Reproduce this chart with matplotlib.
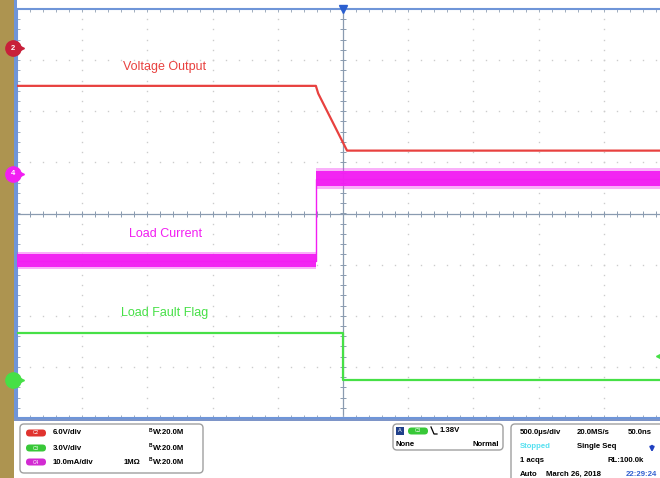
import numpy as np
import matplotlib
matplotlib.use("Agg")
import matplotlib.pyplot as plt
from matplotlib.patches import FancyBboxPatch, Rectangle

plt.rcParams['font.family'] = ['Liberation Sans', 'DejaVu Sans']

# channel settings (scale per division, marker position in divisions)
red_scale = 6.0      # V/div
red_offset = 3.23
cur_scale = 10.0     # mA/div
cur_offset = 0.78
grn_scale = 3.0      # V/div
grn_offset = -3.25
trig_level = 1.38    # V on C3

# traces, time in microseconds (500 us/div, 0 = trigger)
t_volt = [-2500, -208, -190, 31, 2500]
v_volt = [-4.4, -4.4, -5.3, -12.0, -12.0]

t_cur = [-2500, -208, -208, 2500]
i_cur = [-17.0, -17.0, -1.0, -1.0]
i_noise = [1.5, 1.5, 1.8, 1.8]   # half-width of the noise band, mA

t_flag = [-2500, 0, 0, 2500]
v_flag = [2.75, 2.75, 0.0, 0.0]

RED = '#e8413f'
MAG = '#f21ef2'
GRN = '#46e046'

W, H = 660, 478
fig = plt.figure(figsize=(6.6, 4.78), dpi=100)
fig.patch.set_facecolor('white')

# scope screen: left 17px, top 9px, bottom 418px, 65px per div (runs past right edge)
ax = fig.add_axes([17 / W, 1 - 418 / H, 652 / W, 409 / H])
ax.set_xlim(-2500, 2500)
ax.set_ylim(-4, 4)
ax.set_xticks([])
ax.set_yticks([])
for s in ax.spines.values():
    s.set_color('#6f95d8')
    s.set_linewidth(1.5)

# graticule dots
minor_x = np.arange(-2500, 2501, 100)
minor_y = np.arange(-4, 4.01, 0.2)
for gy in range(-3, 4):
    if gy != 0:
        ax.plot(minor_x, np.full(len(minor_x), gy), ls='none', marker='s',
                ms=1.0, color='#cccccc', mec='none')
for gx in range(-2000, 2001, 500):
    if gx != 0:
        ax.plot(np.full(len(minor_y), gx), minor_y, ls='none', marker='s',
                ms=1.0, color='#cccccc', mec='none')
# center cross with ticks
tick_col = '#8a9bb0'
ax.axhline(0, color=tick_col, lw=0.9)
ax.axvline(0, color=tick_col, lw=0.9)
ax.plot(minor_x, np.zeros(len(minor_x)), ls='none', marker='|', ms=4,
        mew=0.7, color=tick_col)
ax.plot(np.zeros(len(minor_y)), minor_y, ls='none', marker='_', ms=4,
        mew=0.7, color=tick_col)
# edge ticks
ax.plot(minor_x, np.full(len(minor_x), 4), ls='none', marker='|', ms=4,
        mew=0.7, color='#a0adbd')
ax.plot(minor_x, np.full(len(minor_x), -4), ls='none', marker='|', ms=4,
        mew=0.7, color='#a0adbd')
ax.plot(np.full(len(minor_y), -2500), minor_y, ls='none', marker='_', ms=4,
        mew=0.7, color='#a0adbd')

# traces
yv = np.array(v_volt) / red_scale + red_offset
ax.plot(t_volt, yv, color=RED, lw=1.6, zorder=5)

yc = np.array(i_cur) / cur_scale + cur_offset
yn = np.array(i_noise) / cur_scale
ax.fill_between(t_cur, yc - yn * 1.15, yc + yn * 1.15, color=MAG, lw=0,
                alpha=0.35, zorder=4)
ax.fill_between(t_cur, yc - yn * 0.8, yc + yn * 0.8, color=MAG, lw=0,
                alpha=0.95, zorder=4)
ax.plot(t_cur, yc, color=MAG, lw=1.0, zorder=4)

yf = np.array(v_flag) / grn_scale + grn_offset
ax.plot(t_flag, yf, color=GRN, lw=1.6, zorder=5)

# labels
ax.text(-1687, 2.86, 'Voltage Output', color=RED, fontsize=9, va='center')
ax.text(-1641, -0.41, 'Load Current', color=MAG, fontsize=9, va='center')
ax.text(-1702, -1.95, 'Load Fault Flag', color=GRN, fontsize=9, va='center')

# channel markers on left
bt = matplotlib.transforms.blended_transform_factory(ax.transAxes, ax.transData)
for off, col, lab in [(red_offset, '#c8203a', '2'), (cur_offset, MAG, '4'),
                      (grn_offset, GRN, '')]:
    ax.plot([-0.006], [off], marker='o', ms=11, color=col, mec=col,
            transform=bt, clip_on=False, zorder=10)
    ax.plot([0.006], [off], marker='>', ms=4, color=col, mec=col,
            transform=bt, clip_on=False, zorder=10)
    ax.text(-0.006, off, lab, color='white', fontsize=5.5, fontweight='bold',
            ha='center', va='center', transform=bt, zorder=11)

# trigger markers
ax.plot([0], [4], marker='v', ms=6, color='#2a5fd0', clip_on=False, zorder=10)
ax.plot([0.984], [trig_level / grn_scale + grn_offset], marker='<', ms=5,
        color=GRN, transform=bt, clip_on=False, zorder=10)

# overlay in pixel coordinates
ov = fig.add_axes([0, 0, 1, 1], zorder=-1)
ov.set_xlim(0, W)
ov.set_ylim(H, 0)
ov.axis('off')
ov.patch.set_alpha(0)
ov.add_patch(Rectangle((0, 0), 14, H, color='#ad9450', lw=0))
ov.add_patch(Rectangle((14, 0), 2.5, 420, color='#6f95d8', lw=0))
ov.add_patch(Rectangle((14, 418), W, 3, color='#7e95c8', lw=0))

ov2 = fig.add_axes([0, 0, 1, 1], zorder=3)
ov2.set_xlim(0, W)
ov2.set_ylim(H, 0)
ov2.axis('off')
ov2.patch.set_alpha(0)

fs = 5.6
box_kw = dict(boxstyle='round,pad=0,rounding_size=4', fc='white',
              ec='#a0a0a0', lw=1.0)
ov2.add_patch(FancyBboxPatch((20, 424), 183, 49, **box_kw))
ov2.add_patch(FancyBboxPatch((393, 424), 110, 26, **box_kw))
ov2.add_patch(FancyBboxPatch((511, 424), 160, 60, **box_kw))

rows = [(433, '#e0332e', 'C2', '6.0V/div', ''),
        (448, '#38c838', 'C3', '3.0V/div', ''),
        (462, '#d22ad2', 'C4', '10.0mA/div', '1MΩ')]
for y, c, tag, sc, imp in rows:
    ov2.add_patch(FancyBboxPatch((26, y - 3.5), 20, 7,
                                 boxstyle='round,pad=0,rounding_size=3.5',
                                 fc=c, ec='none'))
    ov2.text(36, y, tag, color='white', fontsize=3.5, ha='center', va='center')
    ov2.text(53, y, sc, fontsize=fs, fontweight='bold', va='center')
    ov2.text(149, y, 'B', fontsize=3.5, fontweight='bold', va='bottom')
    ov2.text(153, y, 'W:20.0M', fontsize=fs, fontweight='bold', va='center')
    if imp:
        ov2.text(124, y, imp, fontsize=fs, fontweight='bold', va='center')

ov2.add_patch(Rectangle((396, 427), 8, 8, color='#20408a', lw=0))
ov2.text(400, 431, 'A', color='white', fontsize=4, ha='center', va='center')
ov2.add_patch(FancyBboxPatch((408, 427.5), 20, 7,
                             boxstyle='round,pad=0,rounding_size=3.5',
                             fc='#38c838', ec='none'))
ov2.text(418, 431, 'C3', color='white', fontsize=3.5, ha='center', va='center')
ov2.plot([431, 434, 437], [427, 434, 434], color='black', lw=0.9)
ov2.text(440, 431, '1.38V', fontsize=fs, fontweight='bold', va='center')
ov2.text(396, 444, 'None', fontsize=fs, fontweight='bold', va='center')
ov2.text(499, 444, 'Normal', fontsize=fs, fontweight='bold', va='center',
         ha='right')

ov2.text(520, 432, '500.0µs/div', fontsize=fs, fontweight='bold', va='center')
ov2.text(577, 432, '20.0MS/s', fontsize=fs, fontweight='bold', va='center')
ov2.text(628, 432, '50.0ns', fontsize=fs, fontweight='bold', va='center')
ov2.text(520, 447, 'Stopped', fontsize=fs, fontweight='bold', va='center',
         color='#55e0f0')
ov2.text(577, 447, 'Single Seq', fontsize=fs, fontweight='bold', va='center')
ov2.annotate('', xy=(652, 455), xytext=(652, 443),
             arrowprops=dict(arrowstyle='-|>', color='#2040c0', lw=1.5,
                             mutation_scale=6))
ov2.text(520, 461, '1 acqs', fontsize=fs, fontweight='bold', va='center')
ov2.text(608, 461, 'RL:100.0k', fontsize=fs, fontweight='bold', va='center')
ov2.text(520, 474, 'Auto', fontsize=fs, fontweight='bold', va='center')
ov2.text(546, 474, 'March 26, 2018', fontsize=fs, fontweight='bold', va='center')
ov2.text(626, 474, '22:29:24', fontsize=fs, fontweight='bold', va='center',
         color='#3060d0')

fig.savefig('out.png', dpi=100)
